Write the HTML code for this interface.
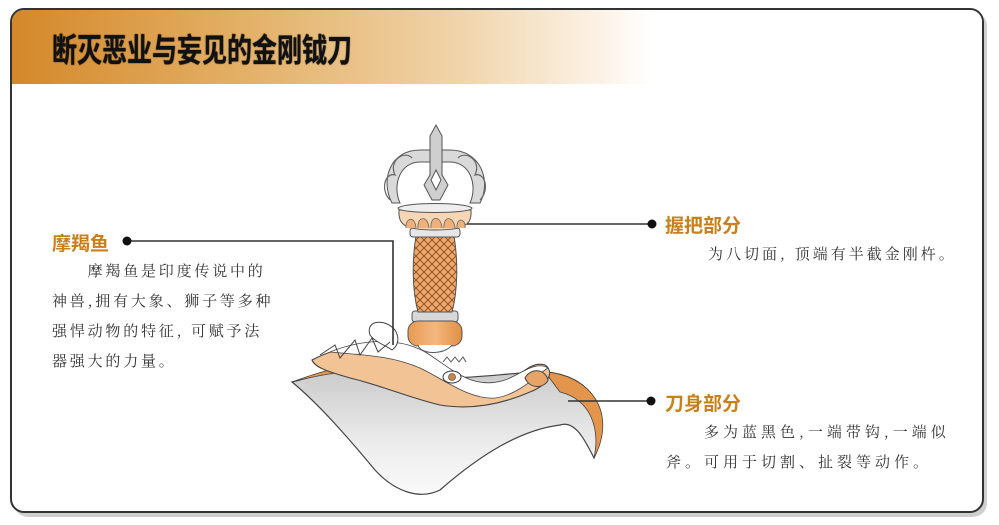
<!DOCTYPE html>
<html><head><meta charset="utf-8"><style>
*{margin:0;padding:0}
body{width:999px;height:525px;background:#fff;position:relative;overflow:hidden;font-family:"Liberation Sans","Noto Sans CJK SC",sans-serif}
.shadow{position:absolute;left:14px;top:12px;width:973px;height:505px;border-radius:14px;background:#cfcfcf}
.frame{position:absolute;left:10px;top:8px;width:970px;height:501px;border:2px solid #333;border-radius:14px;background:#fff;overflow:hidden}
.bar{position:absolute;left:0;top:0;width:100%;height:74px;background:linear-gradient(90deg,#d4882a 0%,#e2ad62 22%,#efd2a6 45%,#fbf1e4 60%,#fff 66%)}
.title{position:absolute;left:40px;top:15px;font-size:25px;font-weight:bold;color:#111;letter-spacing:0px;transform:scaleY(1.3);transform-origin:left top;white-space:nowrap;text-shadow:0 0 1px #000}
.h{position:absolute;color:#c8801c;font-size:19px;font-weight:bold;white-space:nowrap}
.t{position:absolute;color:#333;font-size:15px;letter-spacing:2.8px;white-space:nowrap;line-height:30px;font-family:"Noto Serif CJK SC","Liberation Serif",serif}
</style></head><body>
<div class="shadow"></div>
<div class="frame"><div class="bar"></div><div class="title">断灭恶业与妄见的金刚钺刀</div></div>

<svg width="999" height="525" style="position:absolute;left:0;top:0">
<defs>
<linearGradient id="bl" x1="0" y1="0" x2="0" y2="1"><stop offset="0" stop-color="#c9c9c9"/><stop offset="0.6" stop-color="#ececec"/><stop offset="1" stop-color="#fafafa"/></linearGradient>
<linearGradient id="or" x1="0" y1="0" x2="1" y2="0"><stop offset="0" stop-color="#e79a52"/><stop offset="0.5" stop-color="#f4b780"/><stop offset="1" stop-color="#e08f45"/></linearGradient>
<pattern id="hx" width="8" height="8" patternUnits="userSpaceOnUse"><rect width="8" height="8" fill="#eeaa6e"/><path d="M0 0L8 8M8 0L0 8" stroke="#8a4a1a" stroke-width="0.9"/></pattern>
</defs>
<path d="M292 382 C330 372 360 360 400 372 C450 385 500 372 545 372 C590 375 615 410 594 458 C585 440 575 420 560 425 C520 430 480 455 440 490 C420 500 395 492 375 470 C350 440 320 405 292 382Z" fill="url(#bl)" stroke="#444" stroke-width="1.2"/>
<path d="M292 382 C330 368 365 358 400 368 L400 374 C360 368 330 372 292 382Z" fill="#e3954c" stroke="#444" stroke-width="0.8"/>
<path d="M545 372 C590 375 618 412 594 458 C600 430 592 400 560 392 Z" fill="#e3954c" stroke="#444" stroke-width="0.8"/>
<path d="M312 360 C340 345 380 340 410 350 C440 360 470 395 500 385 C520 378 530 360 545 365 C555 372 548 385 530 392 C500 405 470 410 440 405 C410 398 380 385 350 378 C330 372 315 368 312 360Z" fill="#f2c395" stroke="#444" stroke-width="1.1"/>
<path d="M330 352 C360 340 400 335 430 355 C455 372 475 390 505 380 C520 375 535 360 548 368 C540 372 520 395 495 398 C470 400 445 380 420 368 C390 355 360 355 330 352Z" fill="#fff" stroke="#444" stroke-width="0.8"/>
<path d="M370 335 C365 320 385 318 395 330 C400 338 398 346 392 350 C385 345 375 342 370 335Z" fill="#fff" stroke="#444"/>
<path d="M320 355 L335 345 L340 358 L355 340 L360 355 L372 338 L378 352 L390 342" fill="none" stroke="#444" stroke-width="1"/>
<ellipse cx="452" cy="377" rx="9" ry="6" fill="#fff" stroke="#333"/>
<circle cx="452" cy="377" r="3.5" fill="#c8884a" stroke="#333" stroke-width="0.6"/>
<path d="M443 362 l4 -5 l4 5 l4 -5 l4 5 l4 -5 l3 5" fill="none" stroke="#555"/>
<path d="M525 378 C530 368 545 368 548 380 C545 388 530 390 525 378Z" fill="#e8a467" stroke="#444"/>
<rect x="412" y="311" width="46" height="11" rx="3" fill="#d8d8d8" stroke="#555"/>
<rect x="408" y="321" width="54" height="25" rx="10" fill="url(#or)" stroke="#555"/>
<path d="M418 345 C420 355 445 355 452 345" fill="#fff" stroke="#555"/>
<path d="M416 236 C412 260 412 290 418 312 L452 312 C458 290 458 260 454 236Z" fill="url(#hx)" stroke="#555"/>
<rect x="410" y="228" width="50" height="9" rx="3" fill="#e6e6e6" stroke="#555"/>
<path d="M399 210 C398 225 405 230 435 230 C465 230 472 225 471 210Z" fill="#f6d6b4" stroke="#555"/>
<path d="M398 208 C405 202 465 202 472 208 C472 214 398 214 398 208Z" fill="#eee" stroke="#555"/>
<path d="M406 228 C405 218 415 215 416 228 M418 228 C417 216 428 215 429 228 M431 228 C430 215 441 215 442 228 M444 228 C443 215 454 216 455 228 M457 228 C456 217 466 218 465 228" fill="#f0b07a" stroke="#666" stroke-width="0.8"/>
<path d="M392 203 C380 180 390 150 420 150 L450 150 C480 150 492 180 480 203 L470 203 C478 185 470 162 450 162 L420 162 C400 162 392 185 400 203Z" fill="#d9d9d9" stroke="#555"/>
<path d="M390 200 C380 190 385 172 395 175 C388 160 405 150 412 158 M480 200 C490 190 485 172 475 175 C482 160 465 150 458 158" fill="none" stroke="#666" stroke-width="1.2"/>
<path d="M436 125 L442 136 L442 175 L448 185 L440 200 L432 200 L424 185 L430 175 L430 136Z" fill="#cfcfcf" stroke="#555"/>
<path d="M436 170 L441 180 L436 190 L431 180Z" fill="#fff" stroke="#555"/>
<g stroke="#333" stroke-width="1.6" fill="none">
<path d="M127 241 H393 V345"/>
<path d="M467 224 H652"/>
<path d="M568 401 H651"/>
</g>
<g fill="#111"><circle cx="127" cy="241" r="4.5"/><circle cx="652" cy="224" r="4.5"/><circle cx="651" cy="401" r="4.5"/></g>
</svg>

<div class="h" style="left:52px;top:229px">摩羯鱼</div>
<div class="t" style="left:52px;top:256px">　　摩羯鱼是印度传说中的<br>神兽,拥有大象、狮子等多种<br>强悍动物的特征, 可赋予法<br>器强大的力量。</div>
<div class="h" style="left:665px;top:211px">握把部分</div>
<div class="t" style="left:708px;top:239px;letter-spacing:3px">为八切面, 顶端有半截金刚杵。</div>
<div class="h" style="left:665px;top:389px">刀身部分</div>
<div class="t" style="left:666px;top:417px;letter-spacing:4px">　　多为蓝黑色,一端带钩,一端似<br>斧。可用于切割、扯裂等动作。</div>
</body></html>
